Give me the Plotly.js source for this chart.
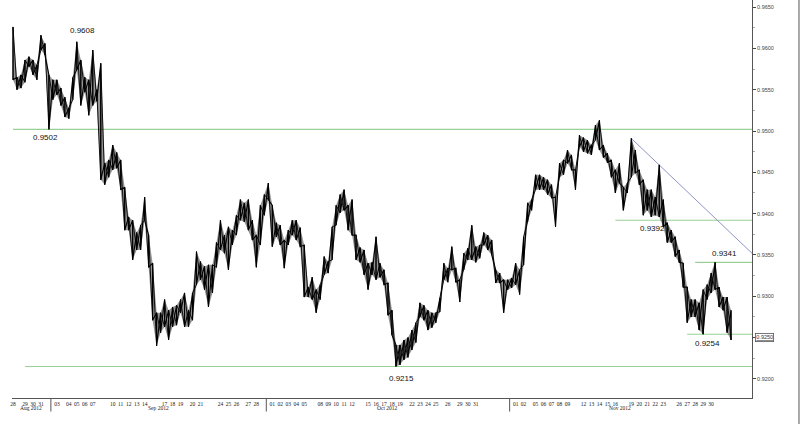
<!DOCTYPE html>
<html><head><meta charset="utf-8">
<script src="https://cdn.plot.ly/plotly-3.0.1.min.js"></script>
<style>html,body{margin:0;padding:0;background:#fff}#chart{width:811px;height:424px}</style>
</head><body><div id="chart"></div>
<script>
// Trading days shown on the axis and how many plotted bars each day occupies
const days = [
 '2012-08-28','2012-08-29','2012-08-30','2012-08-31',
 '2012-09-03','2012-09-04','2012-09-05','2012-09-06','2012-09-07',
 '2012-09-10','2012-09-11','2012-09-12','2012-09-13','2012-09-14',
 '2012-09-17','2012-09-18','2012-09-19','2012-09-20','2012-09-21',
 '2012-09-24','2012-09-25','2012-09-26','2012-09-27','2012-09-28',
 '2012-10-01','2012-10-02','2012-10-03','2012-10-04','2012-10-05',
 '2012-10-08','2012-10-09','2012-10-10','2012-10-11','2012-10-12',
 '2012-10-15','2012-10-16','2012-10-17','2012-10-18','2012-10-19',
 '2012-10-22','2012-10-23','2012-10-24','2012-10-25','2012-10-26',
 '2012-10-29','2012-10-30','2012-10-31',
 '2012-11-01','2012-11-02',
 '2012-11-05','2012-11-06','2012-11-07','2012-11-08','2012-11-09',
 '2012-11-12','2012-11-13','2012-11-14','2012-11-15','2012-11-16',
 '2012-11-19','2012-11-20','2012-11-21','2012-11-22','2012-11-23',
 '2012-11-26','2012-11-27','2012-11-28','2012-11-29','2012-11-30'
];
const barsPerDay = [
 3,2,2,4,
 3,2,2,2,5, 2,2,2,2,5, 2,2,3,2,5, 2,2,3,2,4,
 2,2,2,2,4, 2,2,2,2,4, 2,2,2,2,3, 2,2,2,3,3, 2,2,10,
 2,3, 2,2,2,2,4, 2,2,2,2,4, 2,2,2,2,4, 2,2,2,2,6
];
// Bar highs and lows (price)
const hi = [
 0.9626,0.9565,0.9568,0.9586,0.9590,0.9586,0.9580,0.9616,0.9606,0.9568,
 0.9562,0.9562,0.9552,0.9541,0.9528,0.9565,0.9608,0.9586,0.9565,0.9562,
 0.9598,0.9550,0.9582,0.9461,0.9465,0.9483,0.9474,0.9465,0.9432,0.9396,
 0.9392,0.9377,0.9386,0.9420,0.9374,0.9340,0.9280,0.9280,0.9296,0.9283,
 0.9287,0.9289,0.9296,0.9304,0.9283,0.9304,0.9354,0.9342,0.9336,0.9338,
 0.9338,0.9365,0.9392,0.9374,0.9384,0.9380,0.9398,0.9417,0.9413,0.9417,
 0.9392,0.9374,0.9410,0.9423,0.9437,0.9410,0.9389,0.9386,0.9368,0.9380,
 0.9392,0.9392,0.9383,0.9362,0.9311,0.9323,0.9308,0.9314,0.9348,0.9342,
 0.9384,0.9410,0.9423,0.9429,0.9410,0.9417,0.9374,0.9359,0.9356,0.9340,
 0.9341,0.9372,0.9340,0.9332,0.9316,0.9283,0.9241,0.9241,0.9247,0.9250,
 0.9259,0.9268,0.9292,0.9289,0.9283,0.9280,0.9280,0.9298,0.9340,0.9334,
 0.9360,0.9334,0.9320,0.9352,0.9358,0.9386,0.9360,0.9362,0.9377,0.9374,
 0.9368,0.9332,0.9328,0.9320,0.9320,0.9322,0.9340,0.9332,0.9372,0.9413,
 0.9417,0.9447,0.9447,0.9444,0.9441,0.9435,0.9420,0.9461,0.9465,0.9477,
 0.9471,0.9453,0.9495,0.9492,0.9489,0.9483,0.9507,0.9513,0.9483,0.9473,
 0.9465,0.9453,0.9461,0.9432,0.9437,0.9491,0.9477,0.9453,0.9441,0.9429,
 0.9429,0.9420,0.9459,0.9417,0.9389,0.9380,0.9372,0.9356,0.9340,0.9311,
 0.9296,0.9296,0.9292,0.9308,0.9314,0.9328,0.9341,0.9311,0.9299,0.9299,
 0.9283
];
const lo = [
 0.9562,0.9550,0.9552,0.9559,0.9578,0.9568,0.9562,0.9598,0.9592,0.9502,
 0.9538,0.9544,0.9531,0.9517,0.9515,0.9538,0.9574,0.9531,0.9547,0.9519,
 0.9531,0.9536,0.9441,0.9435,0.9444,0.9453,0.9455,0.9429,0.9380,0.9380,
 0.9344,0.9356,0.9356,0.9392,0.9335,0.9271,0.9240,0.9256,0.9263,0.9247,
 0.9263,0.9265,0.9280,0.9263,0.9263,0.9271,0.9314,0.9320,0.9308,0.9287,
 0.9304,0.9335,0.9356,0.9352,0.9332,0.9362,0.9374,0.9392,0.9390,0.9380,
 0.9368,0.9335,0.9362,0.9398,0.9417,0.9360,0.9372,0.9362,0.9334,0.9362,
 0.9374,0.9368,0.9360,0.9299,0.9299,0.9296,0.9280,0.9296,0.9326,0.9328,
 0.9344,0.9386,0.9401,0.9404,0.9380,0.9374,0.9344,0.9341,0.9326,0.9308,
 0.9326,0.9320,0.9323,0.9314,0.9277,0.9253,0.9215,0.9217,0.9223,0.9226,
 0.9235,0.9244,0.9275,0.9271,0.9259,0.9262,0.9268,0.9281,0.9320,0.9317,
 0.9332,0.9317,0.9293,0.9332,0.9344,0.9344,0.9341,0.9346,0.9362,0.9356,
 0.9350,0.9316,0.9316,0.9280,0.9308,0.9310,0.9314,0.9302,0.9338,0.9390,
 0.9404,0.9429,0.9429,0.9429,0.9423,0.9419,0.9384,0.9444,0.9447,0.9461,
 0.9453,0.9429,0.9481,0.9475,0.9473,0.9471,0.9489,0.9477,0.9468,0.9462,
 0.9444,0.9425,0.9437,0.9404,0.9425,0.9444,0.9449,0.9435,0.9398,0.9404,
 0.9396,0.9398,0.9396,0.9384,0.9365,0.9365,0.9348,0.9341,0.9311,0.9268,
 0.9275,0.9275,0.9259,0.9254,0.9296,0.9304,0.9308,0.9287,0.9283,0.9256,
 0.9247
];
// Price-axis tick values (0.9250 is taken by the last-price tag)
const yTicks = [0.9200, 0.9300, 0.9350, 0.9400, 0.9450, 0.9500, 0.9550, 0.9600, 0.9650];
// Horizontal support / resistance levels and the day each starts
const levelValues = [0.9502, 0.9392, 0.9341, 0.9254, 0.9215];
const levelStartDays = ['2012-08-28','2012-11-16','2012-11-28','2012-11-27','2012-08-29'];
// Labelled pivots
const pivotValues = [0.9608, 0.9502, 0.9215, 0.9392, 0.9341, 0.9254];
const pivotDays = ['2012-09-05','2012-08-31','2012-10-18','2012-11-21','2012-11-30','2012-11-28'];
const pivotSide = ['above','below','below','below','above','below'];
// Down trend line: starts at this day's high and runs to the right edge
const trendStartDay = '2012-11-19';
const trendValues = [0.9491, 0.9352];
const lastPrice = 0.9250;
const monthNames = {'08':'Aug','09':'Sep','10':'Oct','11':'Nov','12':'Dec'};

// ---- derived ----
const dayStart = [];
let acc = 0;
barsPerDay.forEach(n => { dayStart.push(acc); acc += n; });
const nBars = acc;
const idxOfDay = d => dayStart[days.indexOf(d)];
const X_MIN = -0.25, X_MAX = nBars + 4.25;
const Y_MIN = 0.91768, Y_MAX = 0.96586;
const barIdx = hi.map((_, i) => i);

// zigzag paths through each bar's high and low
const zx1 = [], zy1 = [], zx2 = [], zy2 = [];
for (let i = 0; i < hi.length; i++) {
  zx1.push(i, i); zy1.push(hi[i], lo[i]);
  zx2.push(i, i); zy2.push(lo[i], hi[i]);
}
const traces = [
  {x: barIdx, y: lo, type: 'scatter', mode: 'lines', line: {width: 0}, hoverinfo: 'skip'},
  {x: barIdx, y: hi, type: 'scatter', mode: 'lines', fill: 'tonexty', fillcolor: 'rgba(60,60,60,0.55)',
   line: {width: 0}, hoverinfo: 'skip'},
  {x: zx1, y: zy1, type: 'scatter', mode: 'lines', line: {color: '#000', width: 1.1}, hoverinfo: 'skip'},
  {x: zx2, y: zy2, type: 'scatter', mode: 'lines', line: {color: '#000', width: 0.9}, hoverinfo: 'skip'}
];

const shapes = [];
const annotations = [];
const green = '#98d098';
levelValues.forEach((v, k) => {
  shapes.push({type: 'line', xref: 'x', yref: 'y', x0: idxOfDay(levelStartDays[k]), x1: X_MAX,
    y0: v, y1: v, line: {color: green, width: 1.1}, layer: 'below'});
});
const t0 = idxOfDay(trendStartDay);
shapes.push({type: 'line', xref: 'x', yref: 'y', x0: t0, x1: X_MAX, y0: trendValues[0], y1: trendValues[1],
  line: {color: '#8f94c9', width: 1}, layer: 'below'});

const pivShift = [[6, 5], [5, -2], [10, -6], [5, -1.5], [13, 2], [12, -2.5]];
pivotValues.forEach((v, k) => {
  annotations.push({xref: 'x', yref: 'y', x: idxOfDay(pivotDays[k]), y: v, text: v.toFixed(4),
    showarrow: false, xanchor: 'center', yanchor: pivotSide[k] === 'above' ? 'bottom' : 'top',
    xshift: pivShift[k][0], yshift: pivShift[k][1],
    font: {family: 'Liberation Sans, Arial, sans-serif', size: 8, color: '#111'}});
});

// month labels and dividers
const months = [];
days.forEach((d, k) => {
  const m = d.slice(5, 7);
  if (!months.length || months[months.length - 1].m !== m) months.push({m, y: d.slice(0, 4), first: dayStart[k]});
});
months.forEach((mo, k) => {
  const left = k === 0 ? X_MIN : mo.first - 1.5;
  const right = k < months.length - 1 ? months[k + 1].first - 1.5 : nBars - 1;
  if (k > 0) shapes.push({type: 'line', xref: 'x', yref: 'paper', x0: left, x1: left, y0: 0, y1: -0.034,
    line: {color: '#555', width: 1}});
  annotations.push({xref: 'x', yref: 'paper', x: (left + right) / 2, y: -0.026, yanchor: 'middle',
    text: monthNames[mo.m] + ' ' + mo.y, showarrow: false,
    font: {family: 'Liberation Serif, serif', size: 5.5, color: '#222'}});
});

// outer frame line on the right
shapes.push({type: 'line', xref: 'paper', yref: 'paper', x0: 1.0635, x1: 1.0635, y0: -0.07, y1: 1,
  line: {color: '#555', width: 1}});
// short tick for the last-price tag
shapes.push({type: 'line', xref: 'paper', yref: 'y', x0: 1, x1: 1.004, y0: lastPrice, y1: lastPrice,
  line: {color: '#444', width: 1}});

// last price tag
annotations.push({xref: 'paper', yref: 'y', x: 1, y: lastPrice, xanchor: 'left', xshift: 3,
  text: '<u>' + lastPrice.toFixed(4) + '</u>', showarrow: false, bgcolor: '#fff', bordercolor: '#555',
  borderwidth: 0.8, borderpad: 0.5, font: {family: 'Liberation Sans, Arial, sans-serif', size: 5.5, color: '#333'}});

const layout = {
  width: 811, height: 424,
  margin: {l: 12, r: 59, t: 0, b: 26},
  paper_bgcolor: '#fff', plot_bgcolor: '#fff',
  showlegend: false,
  xaxis: {range: [X_MIN, X_MAX], showgrid: false, zeroline: false, showline: true, linecolor: '#555', linewidth: 1,
    ticks: '', tickmode: 'array', tickvals: dayStart, ticktext: days.map(d => d.slice(8)), tickangle: 0,
    tickfont: {family: 'Liberation Serif, serif', size: 5.5, color: '#222'}, fixedrange: true},
  yaxis: {side: 'right', range: [Y_MIN, Y_MAX], showgrid: false, zeroline: false, showline: true,
    linecolor: '#555', linewidth: 1, tickmode: 'array', tickvals: yTicks, tickformat: '.4f',
    ticks: 'outside', ticklen: 3, tickcolor: '#444',
    minor: {tickmode: 'linear', tick0: 0.9175, dtick: 0.005, ticks: 'outside', ticklen: 1.5, tickcolor: '#aaa'},
    tickfont: {family: 'Liberation Sans, Arial, sans-serif', size: 5.5, color: '#444'}, fixedrange: true},
  shapes, annotations
};
Plotly.newPlot('chart', traces, layout, {displayModeBar: false, staticPlot: true});
</script></body></html>
